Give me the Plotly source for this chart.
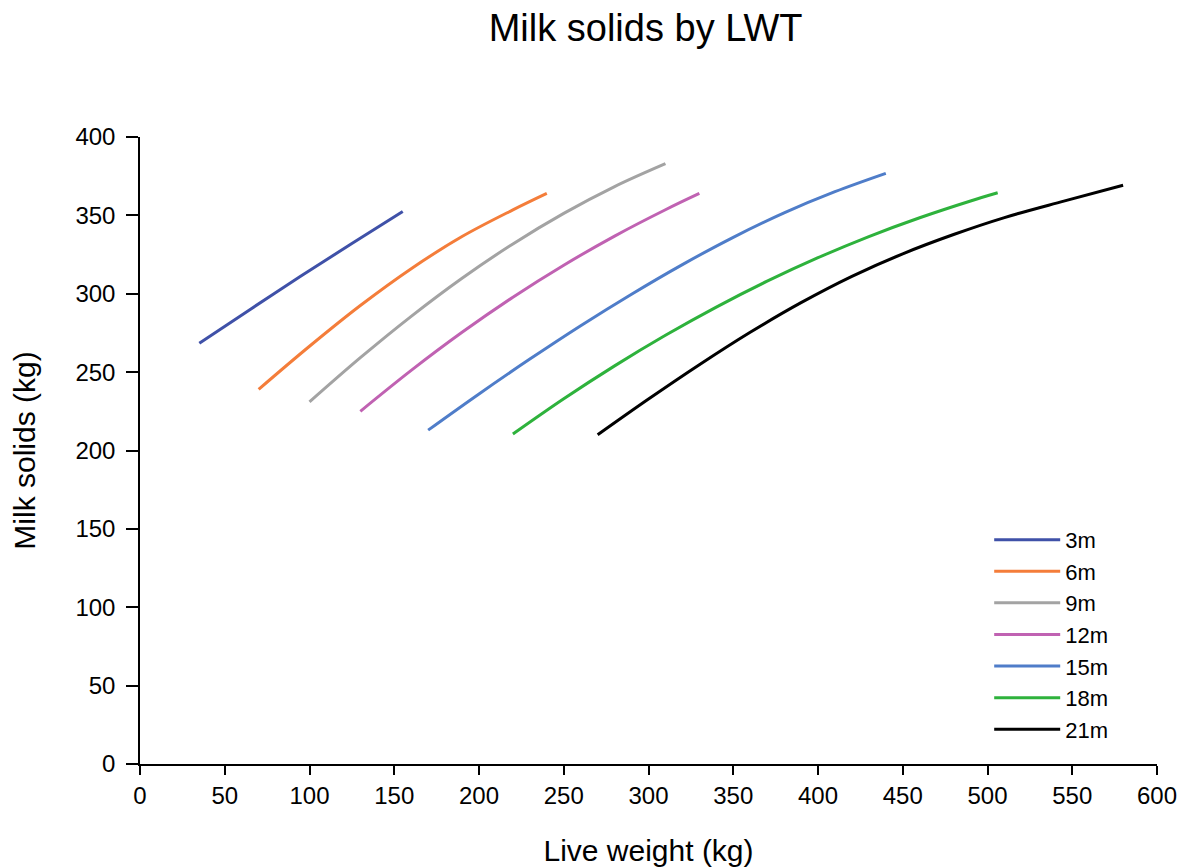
import plotly.graph_objects as go

names = ["3m", "6m", "9m", "12m", "15m", "18m", "21m"]
colors = ["#3F51A8", "#F47D3A", "#A3A3A3", "#C062B2", "#4F7DC9", "#2EB23C", "#000000"]

lwt_3m = [35, 65, 94.5, 125, 155]
ms_3m = [268.4, 290, 311, 332, 352.5]
lwt_6m = [70, 100, 130, 160, 190, 220, 240]
ms_6m = [239, 266.5, 292.5, 316, 336.5, 353.5, 364]
lwt_9m = [100, 130, 160, 190, 220, 250, 280, 310]
ms_9m = [231, 259.2, 285.6, 309.9, 331.8, 351.3, 368.4, 383]
lwt_12m = [130, 160, 190, 220, 250, 280, 310, 330]
ms_12m = [225, 251.1, 275.4, 297.8, 318.2, 336.8, 353.6, 364]
lwt_15m = [170, 200, 230, 260, 290, 320, 350, 380, 410, 440]
ms_15m = [213, 236.1, 258.3, 279.6, 299.7, 318.6, 336, 351.6, 365.1, 376.8]
lwt_18m = [220, 250, 280, 310, 340, 370, 400, 430, 460, 490, 506]
ms_18m = [210.5, 233, 254, 273.5, 291.5, 308, 323, 336.5, 348.5, 359.2, 364.4]
lwt_21m = [270, 300, 330, 360, 390, 420, 450, 480, 510, 545, 580]
ms_21m = [210, 232.8, 254.7, 275.4, 294.3, 311.1, 325.5, 337.8, 348.6, 359.1, 369.2]

xs = [lwt_3m, lwt_6m, lwt_9m, lwt_12m, lwt_15m, lwt_18m, lwt_21m]
ys = [ms_3m, ms_6m, ms_9m, ms_12m, ms_15m, ms_18m, ms_21m]

x_ticks = list(range(0, 601, 50))
y_ticks = list(range(0, 401, 50))

FONT = "Liberation Sans, Arial, sans-serif"

fig = go.Figure()
for n, c, x, y in zip(names, colors, xs, ys):
    fig.add_trace(go.Scatter(x=x, y=y, name=n, mode="lines",
                             line=dict(color=c, width=3, shape="spline", smoothing=1.0)))

# page has an 8px body margin, so the figure is sized to fit the 1191x867 window
fig.update_layout(
    width=1183, height=859,
    paper_bgcolor="white", plot_bgcolor="white",
    margin=dict(l=132, r=34, t=129, b=103),
    font=dict(family=FONT, color="black", size=24),
    title=dict(text="Milk solids by LWT", x=0.539, xanchor="center", y=0.977, yanchor="middle",
               font=dict(size=38, family=FONT, color="black")),
    showlegend=True,
    legend=dict(x=0.835, y=0.391, xanchor="left", yanchor="top", bgcolor="rgba(0,0,0,0)",
                font=dict(size=22, family=FONT), tracegroupgap=0, itemwidth=66),
)
fig.update_xaxes(range=[0, 600], tickvals=x_ticks, ticktext=[str(v) for v in x_ticks],
                 showgrid=False, zeroline=False, showline=True, linecolor="black", linewidth=1.5,
                 ticks="outside", ticklen=9, tickcolor="black", tickwidth=1.5, automargin=False,
                 title=dict(text="Live weight (kg)", font=dict(size=30), standoff=32),
                 tickfont=dict(size=24))
fig.update_yaxes(range=[0, 400], tickvals=y_ticks, ticktext=[str(v) for v in y_ticks],
                 showgrid=False, zeroline=False, showline=True, linecolor="black", linewidth=1.5,
                 ticks="outside", ticklen=12, tickcolor="black", tickwidth=1.5, automargin=False,
                 ticklabelstandoff=6,
                 title=dict(text="Milk solids (kg)", font=dict(size=30), standoff=37),
                 tickfont=dict(size=24))

fig.write_html("out.html")
